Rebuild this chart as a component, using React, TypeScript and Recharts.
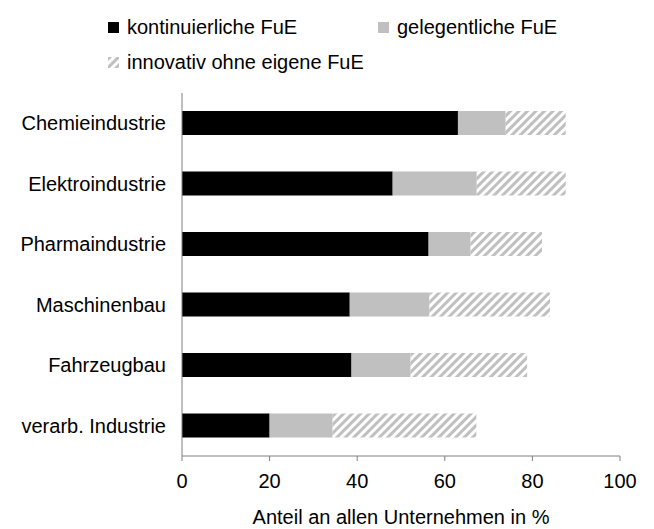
import React from 'react';
import { BarChart, Bar, XAxis, YAxis, Legend } from 'recharts';

const categories = [
  'Chemieindustrie',
  'Elektroindustrie',
  'Pharmaindustrie',
  'Maschinenbau',
  'Fahrzeugbau',
  'verarb. Industrie',
];
const kontinuierlich = [63.0, 48.1, 56.3, 38.3, 38.7, 20.0];
const gelegentlich = [10.9, 19.2, 9.6, 18.2, 13.5, 14.4];
const ohneFuE = [13.7, 20.3, 16.3, 27.5, 26.6, 32.8];
const xTicks = [0, 20, 40, 60, 80, 100];

const FONT = '"Liberation Sans", Arial, sans-serif';
const GRAY = '#c0c0c0';
const AXIS = '#808080';

const data = categories.map((name, i) => ({
  name,
  kont: kontinuierlich[i],
  geleg: gelegentlich[i],
  ohne: ohneFuE[i],
}));

const HatchIcon = () => (
  <svg width={11} height={11} style={{ display: 'block' }}>
    <defs>
      <pattern id="hatchIcon" width={6} height={6} patternUnits="userSpaceOnUse" patternTransform="rotate(45)">
        <rect width={3} height={6} fill={GRAY} />
      </pattern>
    </defs>
    <rect width={11} height={11} fill="url(#hatchIcon)" />
  </svg>
);

const LegendItem = ({ left, top, icon, label }: any) => (
  <div style={{ position: 'absolute', left, top, display: 'flex', alignItems: 'center', height: 24 }}>
    <div style={{ width: 11, height: 11, marginRight: 8 }}>{icon}</div>
    <span style={{ fontSize: 20, color: '#000', whiteSpace: 'nowrap' }}>{label}</span>
  </div>
);

const CustomLegend = () => (
  <div style={{ position: 'relative', width: 654, height: 80, fontFamily: FONT }}>
    <LegendItem left={108} top={15} icon={<div style={{ width: 11, height: 11, background: '#000' }} />} label="kontinuierliche FuE" />
    <LegendItem left={378} top={15} icon={<div style={{ width: 11, height: 11, background: GRAY }} />} label="gelegentliche FuE" />
    <LegendItem left={108} top={50} icon={<HatchIcon />} label="innovativ ohne eigene FuE" />
  </div>
);

export default function App() {
  return (
    <div style={{ position: 'absolute', left: 0, top: 0, background: '#fff' }}>
      <BarChart
        width={654}
        height={529}
        data={data}
        layout="vertical"
        margin={{ top: 13, right: 34, bottom: 0, left: 0 }}
        style={{ fontFamily: FONT }}
      >
        <defs>
          <pattern id="hatch" width={6} height={6} patternUnits="userSpaceOnUse" patternTransform="rotate(45)">
            <rect width={6} height={6} fill="#fff" />
            <rect width={3} height={6} fill={GRAY} />
          </pattern>
        </defs>
        <Legend verticalAlign="top" align="left" wrapperStyle={{ left: 0, top: 0 }} content={<CustomLegend />} />
        <XAxis
          type="number"
          domain={[0, 100]}
          ticks={xTicks}
          stroke={AXIS}
          tickSize={5}
          tickMargin={13}
          height={73}
          tick={{ fill: '#000', fontSize: 20 }}
          label={{ value: 'Anteil an allen Unternehmen in %', position: 'insideBottom', offset: 5, fill: '#000', fontSize: 20 }}
        />
        <YAxis
          type="category"
          dataKey="name"
          width={182}
          stroke={AXIS}
          tickLine={false}
          tickSize={0}
          tickMargin={16}
          tick={{ fill: '#000', fontSize: 20 }}
        />
        <Bar dataKey="kont" stackId="a" fill="#000" barSize={24} isAnimationActive={false} />
        <Bar dataKey="geleg" stackId="a" fill={GRAY} barSize={24} isAnimationActive={false} />
        <Bar dataKey="ohne" stackId="a" fill="url(#hatch)" barSize={24} isAnimationActive={false} />
      </BarChart>
    </div>
  );
}
